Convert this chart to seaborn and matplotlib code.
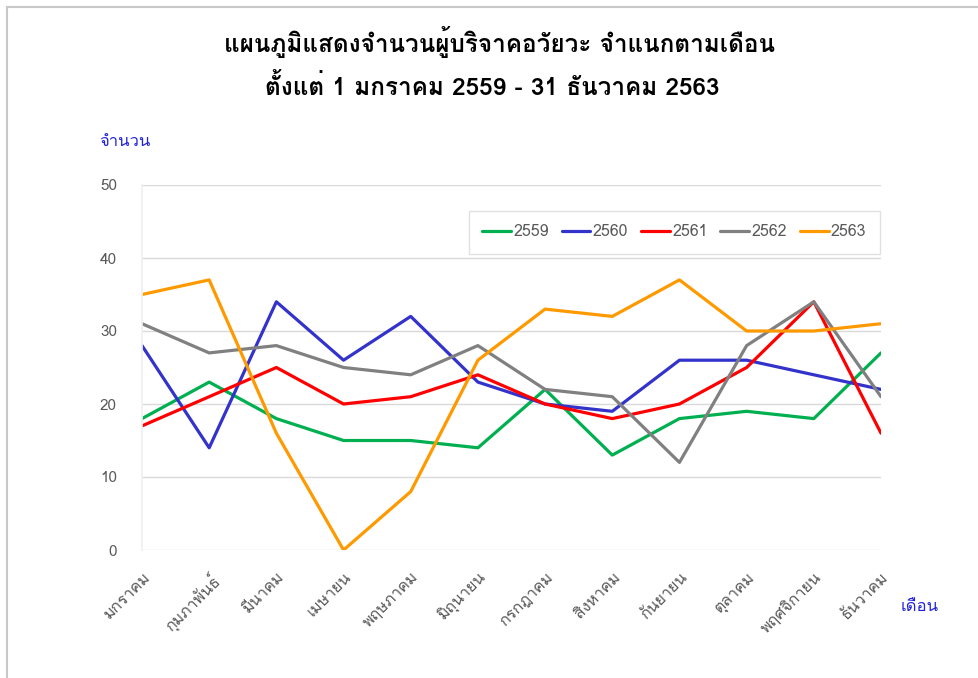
import matplotlib
matplotlib.use("Agg")
import matplotlib.pyplot as plt
from matplotlib import font_manager
from matplotlib.ft2font import FT2Font
from matplotlib.lines import Line2D
import pandas as pd
import seaborn as sns

months = ["มกราคม", "กุมภาพันธ์", "มีนาคม", "เมษายน", "พฤษภาคม", "มิถุนายน",
          "กรกฎาคม", "สิงหาคม", "กันยายน", "ตุลาคม", "พฤศจิกายน", "ธันวาคม"]
years = ["2559", "2560", "2561", "2562", "2563"]
y2559 = [18, 23, 18, 15, 15, 14, 22, 13, 18, 19, 18, 27]
y2560 = [28, 14, 34, 26, 32, 23, 20, 19, 26, 26, 24, 22]
y2561 = [17, 21, 25, 20, 21, 24, 20, 18, 20, 25, 34, 16]
y2562 = [31, 27, 28, 25, 24, 28, 22, 21, 12, 28, 34, 21]
y2563 = [35, 37, 16, 0, 8, 26, 33, 32, 37, 30, 30, 31]
colors = ["#00B050", "#3333CC", "#FF0000", "#808080", "#FF9900"]

title1 = "แผนภูมิแสดงจำนวนผู้บริจาคอวัยวะ จำแนกตามเดือน"
title2 = "ตั้งแต่ 1 มกราคม 2559 - 31 ธันวาคม 2563"


def find_thai_family():
    for f in font_manager.fontManager.ttflist:
        try:
            if 0x0E01 in FT2Font(f.fname).get_charmap():
                return f.name
        except Exception:
            continue
    return None


def main():
    sns.set_theme(style="white")
    thai = find_thai_family()
    fams = ([thai] if thai else []) + ["DejaVu Sans"]
    plt.rcParams["font.family"] = fams

    df = pd.DataFrame({"month": months * 5,
                       "year": sum([[y] * 12 for y in years], []),
                       "value": y2559 + y2560 + y2561 + y2562 + y2563})

    fig = plt.figure(figsize=(9.79, 6.78), dpi=100)
    ax = fig.add_axes([142 / 979, 1 - 550 / 678, (881 - 142) / 979, (550 - 185) / 678])
    sns.lineplot(data=df, x="month", y="value", hue="year", palette=colors,
                 linewidth=2.3, sort=False, ax=ax)

    ax.set_xlim(0, 11)
    ax.set_ylim(0, 50)
    ax.set_yticks(range(0, 51, 10))
    ax.grid(axis="y", color="#D9D9D9", linewidth=1)
    for s in ["top", "right", "bottom"]:
        ax.spines[s].set_visible(False)
    ax.spines["left"].set_color("#EFEFEF")
    ax.set_xlabel("")
    ax.set_ylabel("")
    ax.tick_params(axis="y", colors="#595959", labelsize=11, pad=18, length=0)
    ax.tick_params(axis="x", colors="#595959", labelsize=11.5, length=0, pad=14)
    ax.set_xticks(range(12))
    ax.set_xticklabels(months, rotation=45, ha="right", rotation_mode="anchor")

    ax.legend(loc="upper right", bbox_to_anchor=(1.0095, 0.951), ncol=5,
              frameon=True, fancybox=False, edgecolor="#D9D9D9",
              fontsize=11.5, handlelength=1.8, handletextpad=0.15,
              columnspacing=0.8, labelcolor="#595959", borderpad=0.85)

    fig.text(0.51, 1 - 42 / 678, title1, ha="center", va="center", fontsize=17.5,
             fontweight="bold", color="black")
    fig.text(0.503, 1 - 87 / 678, title2, ha="center", va="center", fontsize=17.5,
             fontweight="bold", color="black")
    fig.text(125 / 979, 1 - 142 / 678, "จำนวน", ha="center", va="center",
             fontsize=12, color="#2222DD")
    fig.text(920 / 979, 1 - 607 / 678, "เดือน", ha="center", va="center",
             fontsize=12, color="#2222DD")

    fig.add_artist(Line2D([7 / 979, 7 / 979], [0, 1 - 7 / 678], transform=fig.transFigure,
                          color="#C8C8C8", linewidth=1.5))
    fig.add_artist(Line2D([7 / 979, 1], [1 - 7 / 678, 1 - 7 / 678], transform=fig.transFigure,
                          color="#C8C8C8", linewidth=1.5))

    fig.savefig("out.png", dpi=100)


if __name__ == "__main__":
    main()
